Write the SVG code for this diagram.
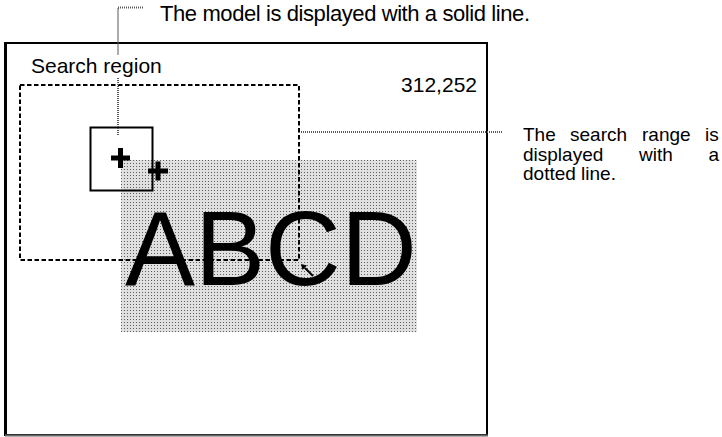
<svg xmlns="http://www.w3.org/2000/svg" width="722" height="437" viewBox="0 0 722 437">
<style>
text{font-family:"Liberation Sans",Arial,Helvetica,sans-serif;fill:#000}
.lbl{font-size:21px}
.note{font-size:19px}
.leader{fill:none;stroke:#5a5a5a;stroke-width:2;stroke-dasharray:1 1}
.dash{fill:none;stroke:#000;stroke-width:2;stroke-dasharray:4.5 2.5}
</style>
<defs>
<pattern id="dots" width="3" height="3" patternUnits="userSpaceOnUse">
<rect width="3" height="3" fill="#e0e0e0"/>
<rect x="1" y="1" width="1" height="1" fill="#5e5e5e"/>
</pattern>
</defs>
<rect width="722" height="437" fill="#fff"/>
<g id="screen">
<rect x="5" y="43" width="482" height="392" fill="#fff" stroke="#000" stroke-width="2"/>
<line x1="5.5" y1="42" x2="5.5" y2="436" stroke="#000" stroke-width="3"/>
<line x1="5" y1="435.5" x2="488" y2="435.5" stroke="#666" stroke-width="2"/>
</g>
<g id="image">
<rect x="121" y="160" width="296" height="172" fill="url(#dots)"/>
</g>
<g id="search-region">
<rect x="20" y="85" width="279" height="175" class="dash"/>
<text class="lbl" x="31" y="73">Search region</text>
</g>
<g id="abcd">
<text x="125" y="285" font-size="105">ABCD</text>
</g>
<g id="model">
<rect x="90.5" y="127.5" width="62" height="63" fill="none" stroke="#000" stroke-width="2"/>
<path d="M111 155.5h19v5h-19z M118 148h5v20h-5z" fill="#000"/>
</g>
<g id="search-pos">
<path d="M148 168.5h20v5h-20z M155.5 161.5h5v19h-5z" fill="#000"/>
</g>
<g id="coord">
<text class="lbl" x="477" y="92" text-anchor="end">312,252</text>
</g>
<g id="pointer">
<line x1="313" y1="276" x2="305" y2="268" stroke="#000" stroke-width="2"/>
<path d="M301 264l6 1.5-4.5 4.5z" fill="#000"/>
</g>
<g id="connectors">
<polyline class="leader" points="143,7.5 118,7.5 118,55"/>
<line class="leader" x1="118" y1="78" x2="118" y2="135"/>
<line class="leader" x1="301" y1="132" x2="502" y2="132"/>
</g>
<g id="note-model">
<text x="160" y="21" font-size="22" textLength="370" lengthAdjust="spacing">The model is displayed with a solid line.</text>
</g>
<g id="note-search">
<text class="note"><tspan x="523" y="141">The</tspan><tspan x="570" y="141">search</tspan><tspan x="642" y="141">range</tspan><tspan x="705" y="141">is</tspan></text>
<text class="note"><tspan x="523" y="160.5">displayed</tspan><tspan x="639" y="160.5">with</tspan><tspan x="708.5" y="160.5">a</tspan></text>
<text class="note" x="523" y="180">dotted line.</text>
</g>
</svg>
